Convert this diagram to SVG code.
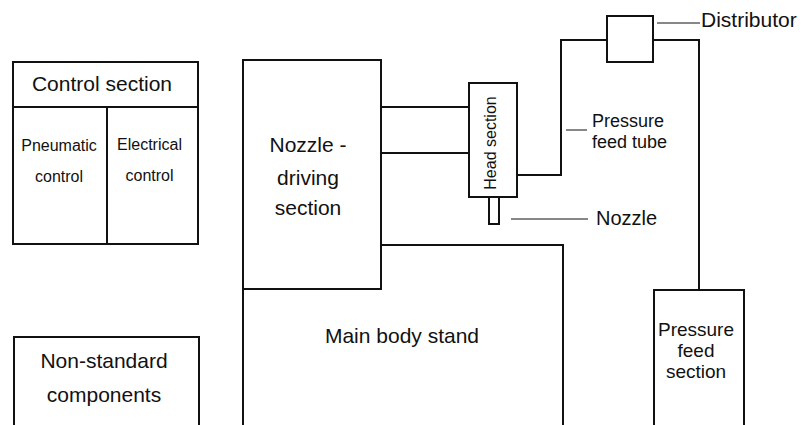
<svg xmlns="http://www.w3.org/2000/svg" width="802" height="425" viewBox="0 0 802 425">
<style>
.b{fill:#fff;stroke:#111;stroke-width:2}
.l{fill:none;stroke:#111;stroke-width:2}
.t{fill:none;stroke:#111;stroke-width:1}
text{font-family:"Liberation Sans",Arial,sans-serif;fill:#111}
</style>
<rect width="802" height="425" fill="#fff"/>
<g id="control-section">
<rect class="b" x="13" y="62" width="185" height="182"/>
<line class="l" x1="13" y1="107" x2="198" y2="107"/>
<line class="l" x1="107" y1="107" x2="107" y2="244"/>
<text x="102" y="91" font-size="21" text-anchor="middle">Control section</text>
<text x="59" y="151" font-size="16" text-anchor="middle">Pneumatic</text>
<text x="59" y="182" font-size="16" text-anchor="middle">control</text>
<text x="149.5" y="150" font-size="16" text-anchor="middle">Electrical</text>
<text x="149.5" y="181" font-size="16" text-anchor="middle">control</text>
</g>
<g id="non-standard">
<polyline class="l" points="14,425 14,337 199,337 199,425"/>
<text x="104" y="368" font-size="21" text-anchor="middle">Non-standard</text>
<text x="104" y="402" font-size="21" text-anchor="middle">components</text>
</g>
<g id="main-body">
<polyline class="l" points="243,425 243,289 381,289 381,245 563,245 563,425"/>
<text x="402" y="343" font-size="21" text-anchor="middle">Main body stand</text>
</g>
<g id="nozzle-driving">
<rect class="b" x="243" y="60" width="138" height="229"/>
<text x="308" y="152" font-size="21" text-anchor="middle">Nozzle -</text>
<text x="308" y="185" font-size="21" text-anchor="middle">driving</text>
<text x="308" y="215" font-size="21" text-anchor="middle">section</text>
</g>
<g id="head-section">
<rect class="b" x="469" y="83" width="48" height="114"/>
<text transform="translate(496,143) rotate(-90)" font-size="16" text-anchor="middle">Head section</text>
</g>
<g id="nozzle">
<rect class="b" x="489" y="197" width="10" height="27"/>
</g>
<g id="distributor">
<rect class="b" x="607" y="16" width="46" height="46"/>
</g>
<g id="pressure-feed-section">
<polyline class="l" points="654,425 654,290 744,290 744,425"/>
<text x="696" y="336" font-size="19" text-anchor="middle">Pressure</text>
<text x="696" y="357" font-size="19" text-anchor="middle">feed</text>
<text x="696" y="378" font-size="19" text-anchor="middle">section</text>
</g>
<g id="connectors">
<line class="l" x1="381" y1="107" x2="469" y2="107"/>
<line class="l" x1="381" y1="153" x2="469" y2="153"/>
<polyline class="l" points="517,175 561,175 561,40 607,40"/>
<polyline class="l" points="653,40 699,40 699,290"/>
<line class="t" x1="657" y1="23" x2="700" y2="23"/>
<line class="t" x1="566" y1="130" x2="587" y2="130"/>
<line class="t" x1="511" y1="219" x2="588" y2="219"/>
</g>
<g id="labels">
<text x="701" y="27" font-size="21">Distributor</text>
<text x="592" y="127" font-size="18">Pressure</text>
<text x="592" y="148" font-size="18">feed tube</text>
<text x="596" y="225" font-size="20">Nozzle</text>
</g>
</svg>
